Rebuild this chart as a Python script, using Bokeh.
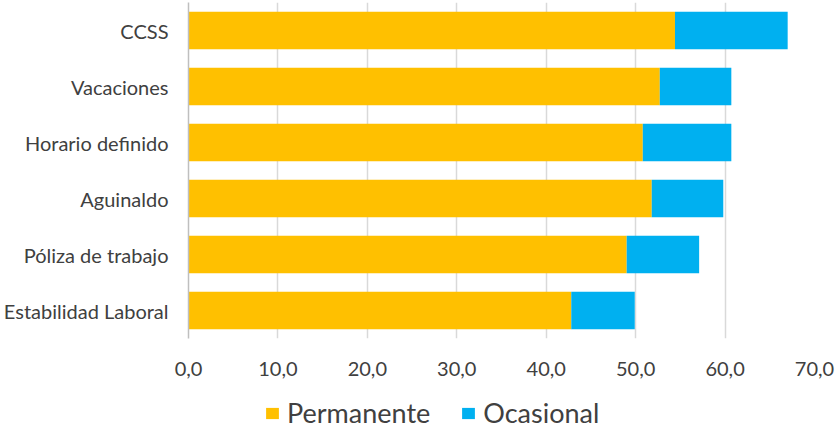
from bokeh.plotting import figure
from bokeh.layouts import column
from bokeh.models import FactorRange, FixedTicker, Legend, LegendItem, ColumnDataSource, Range1d
from bokeh.embed import file_html
from bokeh.resources import INLINE

categories = ["CCSS", "Vacaciones", "Horario definido", "Aguinaldo", "Póliza de trabajo", "Estabilidad Laboral"]
permanente = [54.4, 52.7, 50.8, 51.8, 49.0, 42.8]
ocasional = [12.6, 8.0, 9.9, 8.0, 8.1, 7.1]
series = ["Permanente", "Ocasional"]
colors = ["#FFC000", "#00B0F0"]
tick_values = [0, 10, 20, 30, 40, 50, 60, 70]
tick_labels = ["0,0", "10,0", "20,0", "30,0", "40,0", "50,0", "60,0", "70,0"]

source = ColumnDataSource(dict(cat=categories, Permanente=permanente, Ocasional=ocasional))
TEXT = "#404040"

p = figure(width=836, height=381, output_backend="svg", toolbar_location=None,
           y_range=FactorRange(*list(reversed(categories))), x_range=(0, 70),
           min_border_left=187, min_border_right=22, min_border_top=2, min_border_bottom=43)
p.outline_line_color = None

rs = p.hbar_stack(series, y="cat", height=0.67, source=source,
                  color=colors, line_color=None)

p.xaxis.ticker = FixedTicker(ticks=tick_values)
p.xaxis.major_label_overrides = {v: l for v, l in zip(tick_values, tick_labels)}
p.xaxis.axis_line_color = None
p.xaxis.major_tick_line_color = None
p.xaxis.minor_tick_line_color = None
p.xaxis.major_label_standoff = 17
p.xaxis.major_label_text_font = "Lato"
p.xaxis.major_label_text_font_size = "20px"
p.xaxis.major_label_text_color = TEXT

p.yaxis.axis_line_color = "#bfbfbf"
p.yaxis.axis_line_width = 1.5
p.yaxis.major_tick_line_color = None
p.yaxis.minor_tick_line_color = None
p.yaxis.major_tick_out = 0
p.yaxis.major_tick_in = 0
p.yaxis.major_label_standoff = 20
p.yaxis.major_label_text_font = "Lato"
p.yaxis.major_label_text_font_size = "20px"
p.yaxis.major_label_text_color = TEXT

p.xgrid.grid_line_color = "#d9d9d9"
p.xgrid.grid_line_width = 1.5
p.ygrid.grid_line_color = None

# legend strip: its range holds none of the categories, so no bar is drawn there
pl = figure(width=836, height=48, output_backend="svg", toolbar_location=None,
            x_range=Range1d(0, 70), y_range=FactorRange(factors=["leyenda"]),
            x_axis_type=None, y_axis_type=None,
            min_border_left=187, min_border_right=22, min_border_top=0, min_border_bottom=0)
pl.outline_line_color = None
pl.grid.visible = False
rl = pl.hbar_stack(series, y="cat", height=0.67, source=source, color=colors, line_color=None)

legend = Legend(items=[LegendItem(label=n, renderers=[r]) for n, r in zip(series, rl)],
                orientation="horizontal", location=(76, 0),
                glyph_width=16, glyph_height=14, label_text_font="Lato",
                label_text_font_size="27px", label_text_color=TEXT,
                spacing=30, padding=0, margin=0, border_line_color=None,
                background_fill_alpha=0, label_standoff=7)
pl.add_layout(legend, "center")

layout = column(p, pl, spacing=0)
open("out.html", "w").write(file_html(layout, INLINE))
